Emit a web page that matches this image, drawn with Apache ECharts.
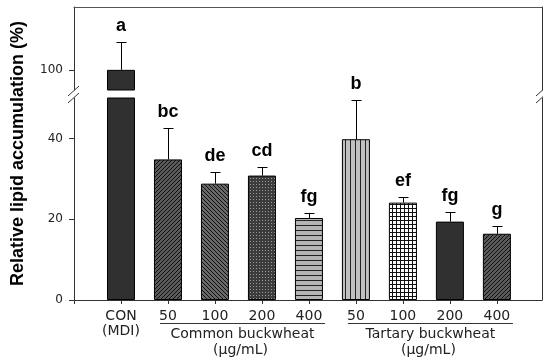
<!DOCTYPE html>
<html>
<head>
<meta charset="utf-8">
<script src="https://cdn.jsdelivr.net/npm/echarts@6/dist/echarts.min.js"></script>
<style>
  html, body { margin: 0; padding: 0; background: #fff; }
  #chart { width: 543px; height: 364px; }
</style>
</head>
<body>
<div id="chart"></div>
<script>
// Treatment categories along the x axis (index = position on the axis)
const categories = ['CON\n(MDI)', '50', '100', '200', '400', '50', '100', '200', '400'];
// Concentration groups: label and the first/last category index they cover
const groupNames = ['Common buckwheat', 'Tartary buckwheat'];
const groupUnit = '(\u03bcg/mL)';
const groupFrom = [1, 5];
const groupTo = [4, 8];
// Relative lipid accumulation (%) and its error
const means = [100, 34.8, 28.8, 30.8, 20.3, 39.8, 24.1, 19.4, 16.4];
const errors = [6.9, 7.7, 2.9, 2.0, 1.3, 9.8, 1.5, 2.4, 1.8];
// Significance letters above each bar
const letters = ['a', 'bc', 'de', 'cd', 'fg', 'b', 'ef', 'fg', 'g'];
// Tick labels on the two segments of the broken y axis
const lowerTicks = [0, 20, 40];
const upperTicks = [100];
// Range shown by each segment of the broken axis
const lowerRange = [0, 50];
const upperRange = [95, 115.6];

// Fill style of each bar
const barFills = ['solid', 'slash', 'backslash', 'dots', 'hlines', 'vlines', 'grid', 'solid', 'slash'];

function tile(w, h, bg, ink, pixels) {
  const c = document.createElement('canvas');
  c.width = w; c.height = h;
  const g = c.getContext('2d');
  g.fillStyle = bg; g.fillRect(0, 0, w, h);
  g.fillStyle = ink;
  pixels.forEach(p => g.fillRect(p[0], p[1], 1, 1));
  return { image: c, repeat: 'repeat' };
}
function fillFor(kind) {
  switch (kind) {
    case 'solid': return '#303030';
    case 'slash': return tile(4, 4, '#5a5a5a', '#111', [[3, 0], [2, 1], [1, 2], [0, 3]]);
    case 'backslash': return tile(4, 4, '#686868', '#111', [[0, 0], [1, 1], [2, 2], [3, 3]]);
    case 'dots': return tile(3, 3, '#3c3c3c', '#9a9a9a', [[1, 1]]);
    case 'hlines': return tile(4, 5, '#b4b4b4', '#222', [[0, 0], [1, 0], [2, 0], [3, 0]]);
    case 'vlines': return tile(5, 4, '#c0c0c0', '#222', [[0, 0], [0, 1], [0, 2], [0, 3]]);
    case 'grid': return tile(4, 4, '#ffffff', '#111', [[0, 0], [1, 0], [2, 0], [3, 0], [0, 1], [0, 2], [0, 3]]);
  }
  return '#333';
}

const axisColor = '#333';
const labelFont = { fontFamily: 'DejaVu Sans', color: '#222' };
const xMin = -1, xMax = 8.96;

const barItems = means.map((v, i) => ({
  value: [i, v],
  itemStyle: { color: fillFor(barFills[i]), borderColor: '#000', borderWidth: 1 }
}));
// The control bar reaches past the break and is drawn in both segments
const upperBars = barItems.filter(d => d.value[1] > lowerRange[1]);

const errData = means.map((v, i) => [i, v, errors[i]]);
const upperErr = errData.filter(d => d[1] + d[2] > lowerRange[1]);
const lowerErr = errData.filter(d => d[1] + d[2] <= lowerRange[1]);

function renderError(params, api) {
  const x = api.value(0), m = api.value(1), e = api.value(2);
  const p0 = api.coord([x, m]);
  const p1 = api.coord([x, m + e]);
  const cx = Math.round(p0[0]) + 0.5;
  const ty = Math.round(p1[1]) + 0.5;
  return {
    type: 'group',
    children: [
      { type: 'line', shape: { x1: cx, y1: p0[1], x2: cx, y2: ty }, style: { stroke: '#000', lineWidth: 1 } },
      { type: 'line', shape: { x1: cx - 5, y1: ty, x2: cx + 5, y2: ty }, style: { stroke: '#000', lineWidth: 1 } },
      {
        type: 'text', x: p0[0], y: p1[1] - 7,
        style: {
          text: letters[x], fill: '#000', align: 'center', verticalAlign: 'bottom',
          font: 'bold 18px "Liberation Sans", Arial, sans-serif'
        }
      }
    ]
  };
}

const chart = echarts.init(document.getElementById('chart'), null, { renderer: 'canvas' });

const frameAxisY = (gridIndex, range) => ({
  gridIndex, type: 'value', position: 'right', min: range[0], max: range[1],
  axisLine: { show: true, onZero: false, lineStyle: { color: axisColor, width: 1 } },
  axisTick: { show: false }, axisLabel: { show: false }, splitLine: { show: false }
});

chart.setOption({
  animation: false,
  grid: [
    { left: 74, right: 1, top: 7, height: 83 },
    { left: 74, right: 1, top: 98, height: 202 }
  ],
  xAxis: [
    {
      gridIndex: 0, type: 'value', min: xMin, max: xMax, position: 'top',
      axisLine: { show: true, onZero: false, lineStyle: { color: '#555', width: 1 } },
      axisTick: { show: false }, axisLabel: { show: false }, splitLine: { show: false }
    },
    {
      gridIndex: 1, type: 'value', min: xMin, max: xMax, interval: 1,
      axisLine: { show: true, onZero: false, lineStyle: { color: axisColor, width: 1 } },
      axisTick: {
        show: true, length: 4, lineStyle: { color: axisColor },
        customValues: [xMin].concat(categories.map((_, i) => i))
      },
      axisLabel: {
        show: true, margin: 9, fontSize: 14, lineHeight: 15, ...labelFont,
        customValues: categories.map((_, i) => i),
        formatter: v => categories[Math.round(v)] || ''
      },
      splitLine: { show: false }
    }
  ],
  yAxis: [
    {
      gridIndex: 0, type: 'value', min: upperRange[0], max: upperRange[1],
      axisLine: { show: true, onZero: false, lineStyle: { color: axisColor, width: 1 } },
      axisTick: { show: true, length: 5, lineStyle: { color: axisColor }, customValues: upperTicks },
      axisLabel: { show: true, margin: 11, fontSize: 12, ...labelFont, customValues: upperTicks },
      splitLine: { show: false }
    },
    frameAxisY(0, upperRange),
    {
      gridIndex: 1, type: 'value', min: lowerRange[0], max: lowerRange[1],
      axisLine: { show: true, onZero: false, lineStyle: { color: axisColor, width: 1 } },
      axisTick: { show: true, length: 5, lineStyle: { color: axisColor }, customValues: lowerTicks },
      axisLabel: { show: true, margin: 11, fontSize: 12, ...labelFont, customValues: lowerTicks },
      splitLine: { show: false }
    },
    frameAxisY(1, lowerRange)
  ],
  series: [
    { type: 'bar', xAxisIndex: 0, yAxisIndex: 0, barWidth: 28, clip: true, data: upperBars },
    { type: 'bar', xAxisIndex: 1, yAxisIndex: 2, barWidth: 28, clip: true, data: barItems },
    { type: 'custom', xAxisIndex: 0, yAxisIndex: 0, renderItem: renderError, data: upperErr, z: 5 },
    { type: 'custom', xAxisIndex: 1, yAxisIndex: 2, renderItem: renderError, data: lowerErr, z: 5 }
  ]
});

// Annotations placed from the axes: y title, group labels with underline, axis break marks
const px = (x, y) => chart.convertToPixel({ gridIndex: 1 }, [x, y]);
const graphics = [];
const axisBottom = px(0, 0)[1];
const upperBottom = chart.convertToPixel({ gridIndex: 0 }, [xMin, upperRange[0]])[1];
const lowerTop = px(xMin, lowerRange[1])[1];

graphics.push({
  type: 'text', x: 18, y: (7 + axisBottom) / 2, rotation: Math.PI / 2,
  style: {
    text: 'Relative lipid accumulation (%)', fill: '#000', align: 'center', verticalAlign: 'middle',
    font: 'bold 18px "Liberation Sans", Arial, sans-serif'
  }
});

groupNames.forEach((name, g) => {
  const a = px(groupFrom[g], 0)[0];
  const b = px(groupTo[g], 0)[0];
  const ly = Math.round(axisBottom + 23) + 0.5;
  graphics.push({ type: 'line', shape: { x1: a - 8, y1: ly, x2: b + 16, y2: ly }, style: { stroke: '#333', lineWidth: 1 } });
  const cx = (a + b) / 2 + 4;
  graphics.push({
    type: 'text', x: cx, y: axisBottom + 34,
    style: { text: name, fill: '#222', align: 'center', verticalAlign: 'middle', font: '14px "DejaVu Sans"' }
  });
  graphics.push({
    type: 'text', x: cx - 2, y: axisBottom + 50,
    style: { text: groupUnit, fill: '#222', align: 'center', verticalAlign: 'middle', font: '14px "DejaVu Sans"' }
  });
});

[px(xMin, 0)[0], px(xMax, 0)[0]].forEach(ax => {
  const mid = (upperBottom + lowerTop) / 2;
  [[-6, 2, 5, -8], [-6, 9, 5, -1]].forEach(s => {
    graphics.push({
      type: 'line',
      shape: { x1: ax + s[0], y1: mid + s[1], x2: ax + s[2], y2: mid + s[3] },
      style: { stroke: '#333', lineWidth: 1 }
    });
  });
});

chart.setOption({ graphic: graphics });
</script>
</body>
</html>
